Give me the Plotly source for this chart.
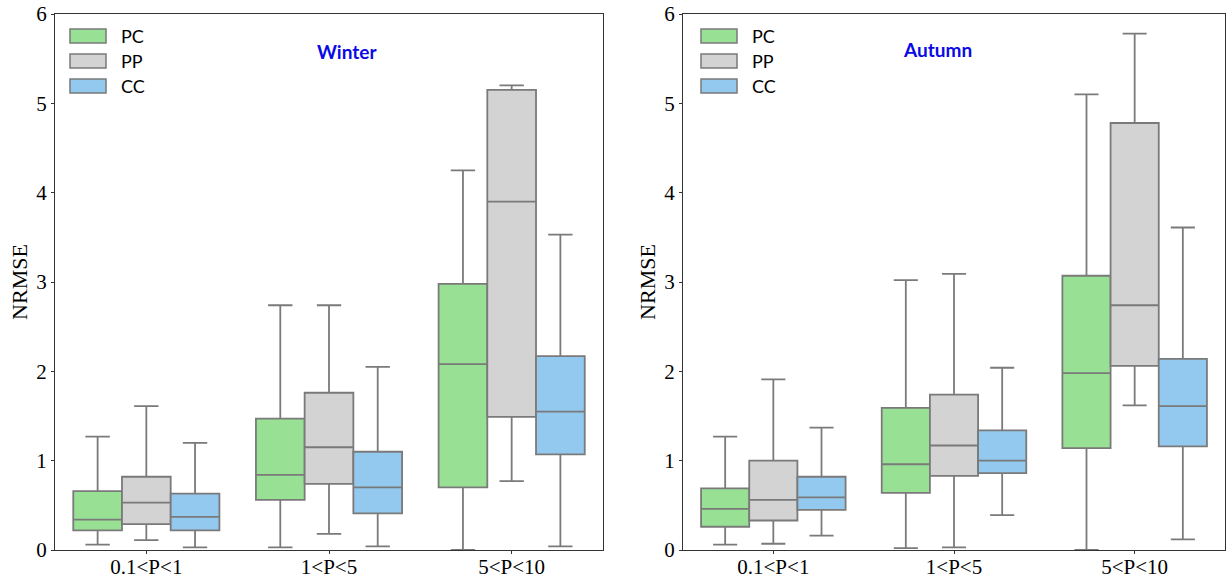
import plotly.graph_objects as go

categories = ["0.1<P<1", "1<P<5", "5<P<10"]
series = ["PC", "PP", "CC"]
colors = {"PC": "#98e194", "PP": "#d3d3d3", "CC": "#93c9ee"}

# Winter: lowerfence, q1, median, q3, upperfence per category
winter = {
    "PC": {"low": [0.06, 0.03, 0.00], "q1": [0.22, 0.56, 0.70], "med": [0.34, 0.84, 2.08], "q3": [0.66, 1.47, 2.98], "high": [1.27, 2.74, 4.25]},
    "PP": {"low": [0.11, 0.18, 0.77], "q1": [0.29, 0.74, 1.49], "med": [0.53, 1.15, 3.90], "q3": [0.82, 1.76, 5.15], "high": [1.61, 2.74, 5.20]},
    "CC": {"low": [0.03, 0.04, 0.04], "q1": [0.22, 0.41, 1.07], "med": [0.37, 0.70, 1.55], "q3": [0.63, 1.10, 2.17], "high": [1.20, 2.05, 3.53]},
}
autumn = {
    "PC": {"low": [0.06, 0.02, 0.00], "q1": [0.26, 0.64, 1.14], "med": [0.46, 0.96, 1.98], "q3": [0.69, 1.59, 3.07], "high": [1.27, 3.02, 5.10]},
    "PP": {"low": [0.07, 0.03, 1.62], "q1": [0.33, 0.83, 2.06], "med": [0.56, 1.17, 2.74], "q3": [1.00, 1.74, 4.78], "high": [1.91, 3.09, 5.78]},
    "CC": {"low": [0.16, 0.39, 0.12], "q1": [0.45, 0.86, 1.16], "med": [0.59, 1.00, 1.61], "q3": [0.82, 1.34, 2.14], "high": [1.37, 2.04, 3.61]},
}
y_ticks = [0, 1, 2, 3, 4, 5, 6]

FW, FH = 1227, 582


def px(X):
    return X / FW


def py(Y):
    return 1 - Y / FH


fig = go.Figure()
line_col = "#7a7a7a"

for data, xa, ya in [(winter, "x", "y"), (autumn, "x2", "y2")]:
    for s in series:
        d = data[s]
        fig.add_trace(go.Box(
            name=s, x=categories, q1=d["q1"], median=d["med"], q3=d["q3"],
            lowerfence=d["low"], upperfence=d["high"],
            fillcolor=colors[s], line=dict(color=line_col, width=1.8),
            boxpoints=False, whiskerwidth=0.5, xaxis=xa, yaxis=ya,
            offsetgroup=s, hoverinfo="skip", showlegend=False,
        ))

axis_font = dict(family="Liberation Serif", size=21, color="black")
xcommon = dict(type="category", range=[-0.5, 2.5], showline=True, linecolor="#333", linewidth=1.3,
               mirror=True, ticks="outside", ticklen=3, tickcolor="#333", tickfont=axis_font,
               ticklabelstandoff=-5,
               showgrid=False, zeroline=False, automargin=False)
ycommon = dict(range=[0, 6], tickvals=y_ticks, showline=True, linecolor="#333", linewidth=1.3,
               mirror=True, ticks="outside", ticklen=3, tickcolor="#333", tickfont=axis_font,
               showgrid=False, zeroline=False, automargin=False,
               title=dict(text="NRMSE", font=dict(family="Liberation Serif", size=22, color="black"), standoff=2))

y_dom = [py(550), py(14)]

# manual legend (paper coords)
shapes = []
annotations = []
legend_rows_y = [36, 61, 86]
for x0 in [70, 701]:
    for s, yc in zip(series, legend_rows_y):
        shapes.append(dict(type="rect", xref="paper", yref="paper",
                           x0=px(x0), x1=px(x0 + 36), y0=py(yc + 7), y1=py(yc - 7),
                           fillcolor=colors[s], line=dict(color=line_col, width=1.5)))
        annotations.append(dict(text=s, xref="paper", yref="paper", x=px(x0 + 49), y=py(yc),
                                xanchor="left", yanchor="middle", showarrow=False,
                                font=dict(family="Lato", size=18, color="black")))

annotations += [
    dict(text="<b>Winter</b>", x=1.1, y=5.58, xref="x", yref="y", showarrow=False,
         font=dict(family="Lato", size=19, color="#0a0ae6")),
    dict(text="<b>Autumn</b>", x=0.91, y=5.6, xref="x2", yref="y2", showarrow=False,
         font=dict(family="Lato", size=19, color="#0a0ae6")),
]

fig.update_layout(
    width=FW, height=FH,
    margin=dict(l=0, r=0, t=0, b=0, autoexpand=False),
    paper_bgcolor="white", plot_bgcolor="white",
    boxmode="group", boxgap=0.2, boxgroupgap=0.0,
    xaxis=dict(xcommon, domain=[px(55), px(603)], anchor="y"),
    yaxis=dict(ycommon, domain=y_dom, anchor="x"),
    xaxis2=dict(xcommon, domain=[px(683), px(1225)], anchor="y2"),
    yaxis2=dict(ycommon, domain=y_dom, anchor="x2"),
    showlegend=False,
    shapes=shapes,
    annotations=annotations,
)

fig.write_html("out.html", config={"displayModeBar": False},
               post_script="document.body.style.margin='0';document.body.style.overflow='hidden';")
